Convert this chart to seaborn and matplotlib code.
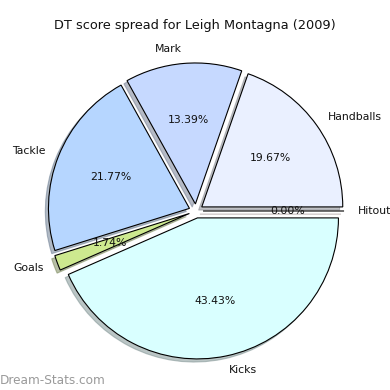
# DT score spread pie chart

import matplotlib
matplotlib.use("Agg")
import matplotlib.pyplot as plt
import seaborn as sns

# Data
labels = ['Handballs', 'Mark', 'Tackle', 'Goals', 'Kicks', 'Hitout']
shares = [19.67, 13.39, 21.77, 1.74, 43.43, 0.0]
colors = ['#eaf0ff', '#c6d9ff', '#b6d6ff', '#cde98f', '#d9ffff', '#ffe0e0']
explode = [0.05, 0.05, 0.05, 0.05, 0.05, 0.05]


def create_pie():
    """Draw the pie with shadow and exploded wedges"""
    sns.set_style("white")
    plt.rcParams['font.family'] = ['DejaVu Sans']

    fig = plt.figure(figsize=(3.9, 3.9), dpi=100)
    ax = fig.add_axes([0, 0, 1, 1])

    ax.pie(shares, labels=labels, colors=colors, explode=explode,
           autopct='%.2f%%', pctdistance=0.6, labeldistance=1.1,
           shadow={'ox': -0.016, 'oy': -0.016, 'shade': 0.45},
           startangle=0, counterclock=True,
           wedgeprops={'edgecolor': 'black', 'linewidth': 0.8},
           textprops={'fontsize': 7.8, 'color': '#111111'})

    # 1 data unit = ~141 px, pie centre at (196, 212) px from top-left
    r_px = 141.0
    ax.set_xlim(-196 / r_px, (390 - 196) / r_px)
    ax.set_ylim(-(390 - 211) / r_px, 211 / r_px)
    ax.set_aspect('equal')
    ax.axis('off')

    fig.text(0.5, 1 - 25 / 390, 'DT score spread for Leigh Montagna (2009)',
             ha='center', va='center', fontsize=9.3, color='#111111')
    fig.text(0.0, 1 - 380 / 390, 'Dream-Stats.com', ha='left', va='center',
             fontsize=8.7, color='#9a9a9a')

    fig.savefig('out.png', dpi=100)


if __name__ == "__main__":
    create_pie()
